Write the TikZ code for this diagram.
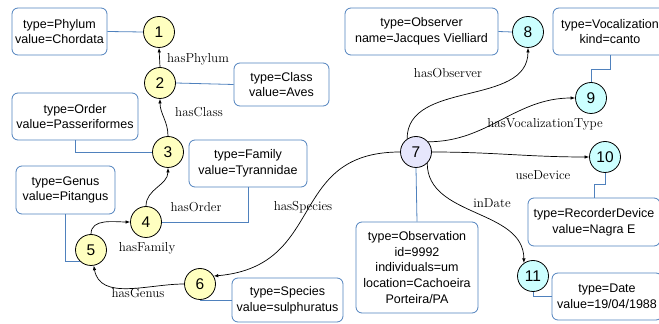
\documentclass[tikz,border=0pt]{standalone}
\usepackage{fontspec}
\setsansfont{Liberation Sans}
\usetikzlibrary{arrows.meta,positioning}
\definecolor{taxfill}{RGB}{255,255,192}
\definecolor{obsfill}{RGB}{230,230,252}
\definecolor{ctxfill}{RGB}{204,255,255}
\definecolor{attrblue}{RGB}{79,129,189}

\begin{document}
\begin{tikzpicture}[x=1pt, y=1pt,
	main/.style = {draw, circle, minimum size=31pt, inner sep=0pt, line width=0.8pt, font=\sffamily\fontsize{15.5}{16}\selectfont},
	taxon/.style = {main, fill=taxfill},
	obs/.style = {main, fill=obsfill},
	ctx/.style = {main, fill=ctxfill},
	attr/.style = {draw=attrblue, line width=0.8pt, rounded corners=6pt, align=center, inner sep=0pt, font=\sffamily\fontsize{12.5}{15.7}\selectfont},
	link/.style = {draw=attrblue, line width=0.8pt},
	rel/.style = {-{Latex[length=4.5pt,width=3.5pt]}, line width=0.7pt},
	lbl/.style = {font=\fontsize{13}{15}\selectfont}]
	\useasboundingbox (0,0) rectangle (659,324);

	% taxonomy chain
	\node[taxon] (1) at (159,292) {1};
	\node[taxon] (2) at (160,241) {2};
	\node[taxon] (3) at (168,172) {3};
	\node[taxon] (4) at (146,102) {4};
	\node[taxon] (5) at (91,74) {5};
	\node[taxon] (6) at (200,40) {6};
	% observation and its context
	\node[obs] (7) at (416,172) {7};
	\node[ctx] (8) at (528,292) {8};
	\node[ctx] (9) at (591,226) {9};
	\node[ctx] (10) at (605,167) {10};
	\node[ctx] (11) at (533,48) {11};

	% attribute boxes
	\node[attr, minimum width=95pt, minimum height=47pt] (a1) at (59.5,292.5) {type=Phylum\\value=Chordata};
	\node[attr, minimum width=95pt, minimum height=43pt] (a2) at (281.5,239.5) {type=Class\\value=Aves};
	\node[attr, minimum width=126pt, minimum height=47pt] (a3) at (75,207.5) {type=Order\\value=Passeriformes};
	\node[attr, minimum width=118pt, minimum height=47pt] (a4) at (248,160.5) {type=Family\\value=Tyrannidae};
	\node[attr, minimum width=99pt, minimum height=48pt] (a5) at (65.5,134) {type=Genus\\value=Pitangus};
	\node[attr, minimum width=111pt, minimum height=44pt] (a6) at (287.5,24) {type=Species\\value=sulphuratus};
	\node[attr, minimum width=122pt, minimum height=91pt] (a7) at (417,56.5) {type=Observation\\id=9992\\individuals=um\\location=Cachoeira\\Porteira/PA};
	\node[attr, minimum width=153pt, minimum height=47pt] (a8) at (421.5,292.5) {type=Observer\\name=Jacques Vielliard};
	\node[attr, minimum width=114pt, minimum height=47pt] (a9) at (610,292.5) {type=Vocalization\\kind=canto};
	\node[attr, minimum width=132pt, minimum height=48pt] (a10) at (594,102) {type=RecorderDevice\\value=Nagra E};
	\node[attr, minimum width=110pt, minimum height=47pt] (a11) at (607,27.5) {type=Date\\value=19/04/1988};

	% box links
	\draw[link] (a1.east) -- (1.west);
	\draw[link] (2.east) -- (a2.west);
	\draw[link] (a3.south) |- (3.west);
	\draw[link] (a4.south) |- (4.east);
	\draw[link] (a5.south) |- (5.south west);
	\draw[link] (6.south) |- (a6.west);
	\draw[link] (7.south) -- (a7.north);
	\draw[link] (a8.east) -- (8.west);
	\draw[link] (9.north) -- ++(0,13) -| (a9.south);
	\draw[link] (10.south) -- ++(0,-12) -| (a10.north);
	\draw[link] (11.south) |- (a11.west);

	% relations
	\draw[rel] (2.north) -- (1.south) node[lbl] at (198,265) {hasPhylum};
	\draw[rel] (3.north) to[out=90, in=-90] (2.south) node[lbl] at (199,212) {hasClass};
	\draw[rel] (4.north) to[out=90, in=-90] (3.south) node[lbl] at (196,117) {hasOrder};
	\draw[rel] (5.north) to[out=90, in=180] (4.west) node[lbl] at (147,76) {hasFamily};
	\draw[rel] (6.west) to[out=180, in=-80] (5.-80) node[lbl] at (138,31) {hasGenus};
	\draw[rel] (7.west) to[out=180, in=5, looseness=1.3] (6.30) node[lbl] at (303,117) {hasSpecies};
	\draw[rel] (7.124) to[out=90, in=-90] (8.south) node[lbl] at (448,251) {hasObserver};
	\draw[rel] (7.40) to[out=0, in=180] (9.west) node[lbl] at (545,200) {hasVocalizationType};
	\draw[rel] (7.east) to[out=0, in=180] (10.west) node[lbl] at (543,149) {useDevice};
	\draw[rel] (7.-45) to[out=-90, in=90] (11.125) node[lbl] at (492,121) {inDate};
\end{tikzpicture}
\end{document}
